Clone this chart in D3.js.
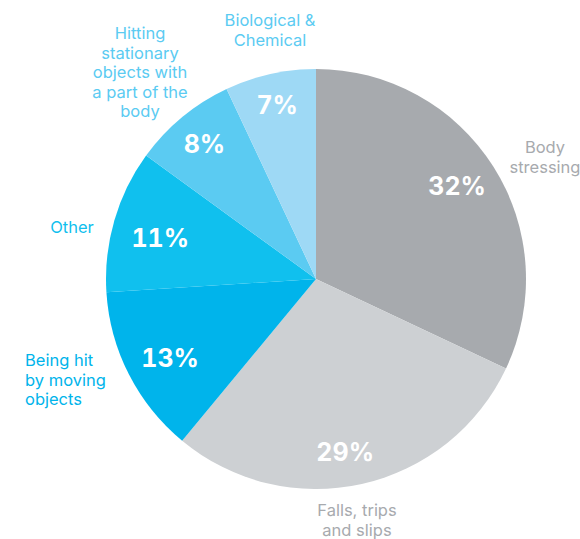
<!DOCTYPE html>
<html>
<head>
<meta charset="utf-8">
<script src="https://cdn.jsdelivr.net/npm/d3@7"></script>
<style>
  html, body { margin: 0; padding: 0; background: #fff; }
  svg { display: block; }
  text { font-family: Inter, "Noto Sans", sans-serif; }
  text.pct { font-variant-numeric: tabular-nums; font-feature-settings: "tnum" 1; }
</style>
</head>
<body>
<svg id="chart" width="580" height="539"></svg>
<script>
// ---- data ----
const categories = [
  "Body stressing",
  "Falls, trips and slips",
  "Being hit by moving objects",
  "Other",
  "Hitting stationary objects with a part of the body",
  "Biological & Chemical"
];
const values = [32, 29, 13, 11, 8, 7];
const labelLines = [
  ["Body", "stressing"],
  ["Falls, trips", "and slips"],
  ["Being hit", "by moving", "objects"],
  ["Other"],
  ["Hitting", "stationary", "objects with", "a part of the", "body"],
  ["Biological &", "Chemical"]
];
const sliceColors = ["#a7aaae", "#cdd0d3", "#00b4eb", "#10c0ee", "#5bcbf2", "#9ed9f5"];
const labelColors = ["#a7aaae", "#a7aaae", "#00b4eb", "#10c0ee", "#5bcbf2", "#5bcbf2"];

// ---- layout ----
const labelLayout = [
  { x: 545, y: 153, anchor: "middle" },
  { x: 357, y: 516, anchor: "middle" },
  { x: 25,  y: 366, anchor: "start" },
  { x: 72,  y: 233, anchor: "middle" },
  { x: 140, y: 39,  anchor: "middle" },
  { x: 270, y: 26,  anchor: "middle" }
];
// radius and angular nudge (degrees) for the percent labels
const pctLayout = [
  { r: 169, da: -1 },
  { r: 175, da: 3 },
  { r: 166, da: -1.5 },
  { r: 161, da: -1.5 },
  { r: 175, da: 0 },
  { r: 178, da: 0 }
];
const lineStep = 19.6;

const cx = 316, cy = 279, R = 210;

const svg = d3.select("#chart");
const g = svg.append("g").attr("transform", `translate(${cx},${cy})`);

const data = categories.map((c, i) => ({ cat: c, value: values[i], i }));

const pie = d3.pie().value(d => d.value).sort(null).startAngle(0).endAngle(2 * Math.PI);
const arc = d3.arc().innerRadius(0).outerRadius(R);

const arcs = pie(data);

g.selectAll("path.slice")
  .data(arcs)
  .join("path")
  .attr("class", "slice")
  .attr("d", arc)
  .attr("fill", d => sliceColors[d.data.i]);

function pctPos(d) {
  const L = pctLayout[d.data.i];
  const shift = L.da * Math.PI / 180;
  return d3.arc().innerRadius(L.r).outerRadius(L.r)
    .centroid({ startAngle: d.startAngle + shift, endAngle: d.endAngle + shift });
}

g.selectAll("text.pct")
  .data(arcs)
  .join("text")
  .attr("class", "pct")
  .attr("transform", d => `translate(${pctPos(d)})`)
  .attr("text-anchor", "middle")
  .attr("dy", "0.36em")
  .attr("fill", "#fff")
  .attr("font-size", 25)
  .attr("font-weight", 700)
  .text(d => d.data.value + "%");

const lab = svg.selectAll("text.cat")
  .data(data)
  .join("text")
  .attr("class", "cat")
  .attr("x", d => labelLayout[d.i].x)
  .attr("y", d => labelLayout[d.i].y)
  .attr("text-anchor", d => labelLayout[d.i].anchor)
  .attr("fill", d => labelColors[d.i])
  .attr("font-size", 16.5);

lab.selectAll("tspan")
  .data(d => labelLines[d.i].map(t => ({ t, x: labelLayout[d.i].x })))
  .join("tspan")
  .attr("x", d => d.x)
  .attr("dy", (d, j) => j === 0 ? 0 : lineStep)
  .text(d => d.t);
</script>
</body>
</html>
